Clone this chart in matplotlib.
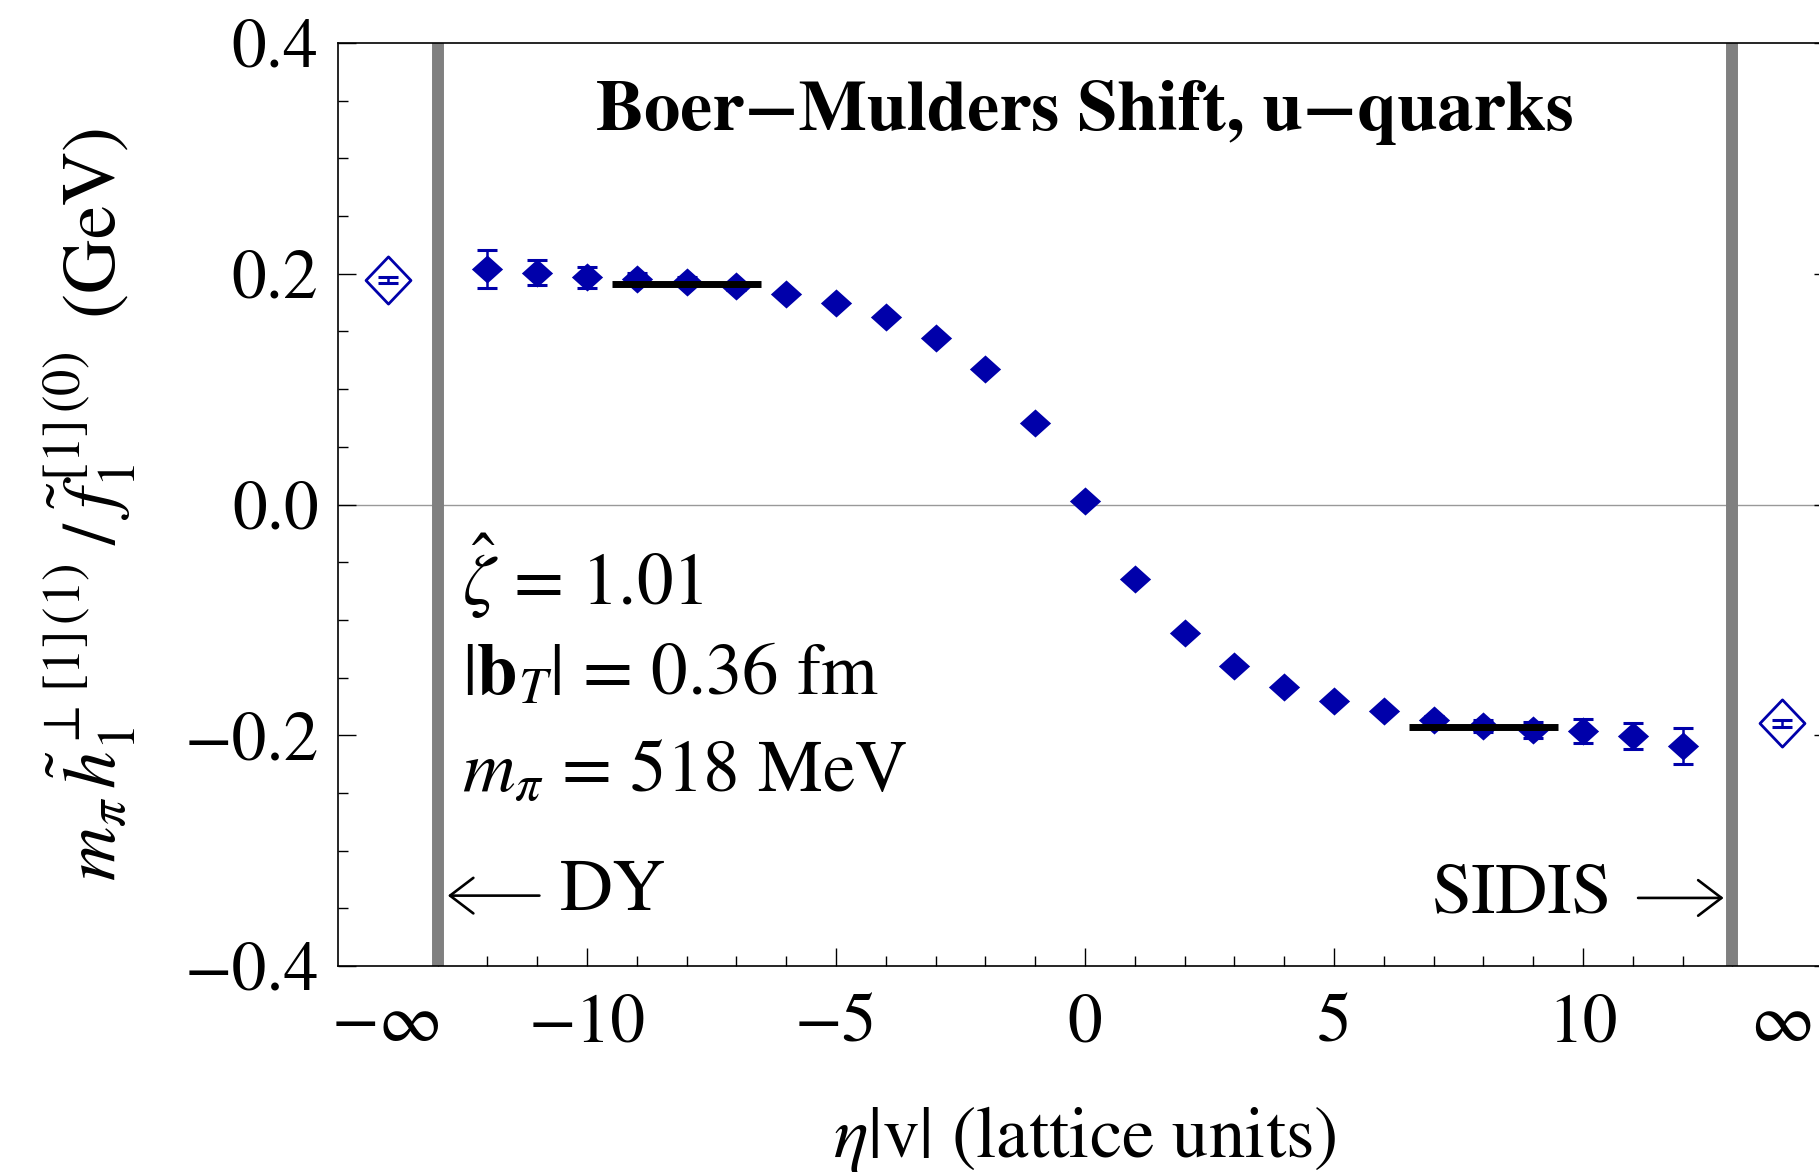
import matplotlib
matplotlib.use("Agg")
import matplotlib.pyplot as plt
import numpy as np
from matplotlib.path import Path

plt.rcParams['font.family'] = ['STIXGeneral', 'DejaVu Serif']
plt.rcParams['mathtext.fontset'] = 'stix'

# ---------------- data ----------------
eta = [-12, -11, -10, -9, -8, -7, -6, -5, -4, -3, -2, -1, 0,
       1, 2, 3, 4, 5, 6, 7, 8, 9, 10, 11, 12]
ratio = [0.204, 0.201, 0.197, 0.1955, 0.193, 0.189, 0.1824, 0.1744, 0.1628,
         0.1447, 0.1175, 0.0703, 0.003, -0.0644, -0.1117, -0.1398, -0.158,
         -0.170, -0.1791, -0.1872, -0.192, -0.1955, -0.1963, -0.2004, -0.2093]
ratio_err = [0.0165, 0.011, 0.009, 0.005, 0.004, 0.003, 0.002, 0.002, 0.002,
             0.002, 0.002, 0.002, 0.002, 0.002, 0.002, 0.002, 0.002, 0.002,
             0.002, 0.004, 0.005, 0.007, 0.010, 0.0113, 0.016]

inf_pos = [-14, 14]
inf_val = [0.1946, -0.1897]
inf_err = [0.003, 0.003]

plateau_x = [[-9.5, -6.5], [6.5, 9.5]]
plateau_y = [0.191, -0.193]

boundary_x = [-13, 13]

xtick_pos = [-14, -10, -5, 0, 5, 10, 14]
xtick_labels = ['\u2212\u221e', '\u221210', '\u22125', '0', '5', '10', '\u221e']
ytick_pos = [0.4, 0.2, 0.0, -0.2, -0.4]
ytick_labels = ['0.4', '0.2', '0.0', '\u22120.2', '\u22120.4']

title = 'Boer\u2212Mulders Shift, u\u2212quarks'
info_lines = [r'$\hat{\zeta}$ = 1.01', r'$|\mathbf{b}_T|$ = 0.36 fm', r'$m_\pi$ = 518 MeV']

# ---------------- figure ----------------
W, H = 1819, 1175
fig = plt.figure(figsize=(W / 100, H / 100), dpi=100)
ax = fig.add_axes([338 / W, (H - 966) / H, (1832 - 338) / W, (966 - 43) / H])
ax.set_xlim(-15, 15)
ax.set_ylim(-0.4, 0.4)

blue = '#0000AA'
diamond = Path([(-1, 0), (0, 0.9), (1, 0), (0, -0.9), (-1, 0)],
               [Path.MOVETO, Path.LINETO, Path.LINETO, Path.LINETO, Path.CLOSEPOLY])
diamond_open = Path([(-1, 0), (0, 1.05), (1, 0), (0, -1.05), (-1, 0)],
                    [Path.MOVETO, Path.LINETO, Path.LINETO, Path.LINETO, Path.CLOSEPOLY])

ax.axhline(0, color='#999999', lw=1.0, zorder=1)
for bx in boundary_x:
    ax.axvline(bx, color='#808080', lw=8.6, zorder=2)

ax.errorbar(eta, ratio, yerr=ratio_err, fmt='none', ecolor=blue, elinewidth=1.8,
            capsize=7.5, capthick=2.2, zorder=3)
ax.plot(eta, ratio, linestyle='none', marker=diamond, markersize=22.5,
        color=blue, markeredgewidth=0, zorder=4)

ax.errorbar(inf_pos, inf_val, yerr=inf_err, fmt='none', ecolor=blue, elinewidth=1.8,
            capsize=7.5, capthick=2.2, zorder=3)
ax.plot(inf_pos, inf_val, linestyle='none', marker=diamond_open, markersize=34,
        markerfacecolor='none', markeredgecolor=blue, markeredgewidth=2.0, zorder=4)

for px, py in zip(plateau_x, plateau_y):
    ax.plot(px, [py, py], color='black', lw=5, solid_capstyle='butt', zorder=5)

# ticks
ax.set_xticks(xtick_pos)
ax.set_xticklabels(xtick_labels)
ax.set_xticks([v for v in range(-13, 14) if v % 5 != 0], minor=True)
ax.set_yticks(ytick_pos)
ax.set_yticklabels(ytick_labels)
ax.set_yticks(np.arange(-0.4, 0.401, 0.05), minor=True)

ax.tick_params(axis='both', which='major', direction='in', length=13, width=1.0,
               labelsize=50, color='black')
ax.tick_params(axis='both', which='minor', direction='in', length=7, width=1.0,
               color='black')
ax.tick_params(axis='y', which='both', left=True, right=True)
ax.tick_params(axis='x', which='major', pad=20)
ax.tick_params(axis='y', which='major', pad=14)
for t in ax.xaxis.get_major_ticks():
    if abs(t.get_loc()) == 14:
        t.tick1line.set_visible(False)
        t.tick2line.set_visible(False)

for s in ax.spines.values():
    s.set_linewidth(1.2)

ax.set_xlabel(r'$\eta$|v| (lattice units)', fontsize=52.5, labelpad=34)
ax.set_ylabel(r'$m_\pi\,\tilde{h}_1^{\perp\,[1]\,(1)}\;/\;\tilde{f}_1^{\,[1]\,(0)}\;\;\mathrm{(GeV)}$',
              fontsize=54, labelpad=33)

ax.text(0, 0.340, title, fontsize=52, fontweight='bold', ha='center', va='center')

info_y = [-0.062, -0.150, -0.234]
for s, y in zip(info_lines, info_y):
    ax.text(-12.5, y, s, fontsize=52.5, ha='left', va='center')

arrow_style = '->, head_length=0.42, head_width=0.32'
ax.annotate('', xy=(-12.85, -0.339), xytext=(-10.9, -0.339),
            arrowprops=dict(arrowstyle=arrow_style, lw=1.9, mutation_scale=40, color='black'))
ax.text(-10.55, -0.337, 'DY', fontsize=53, ha='left', va='center')
ax.annotate('', xy=(12.88, -0.341), xytext=(11.05, -0.341),
            arrowprops=dict(arrowstyle=arrow_style, lw=1.9, mutation_scale=40, color='black'))
ax.text(10.6, -0.339, 'SIDIS', fontsize=52, ha='right', va='center')

fig.savefig('out.png', dpi=100)
